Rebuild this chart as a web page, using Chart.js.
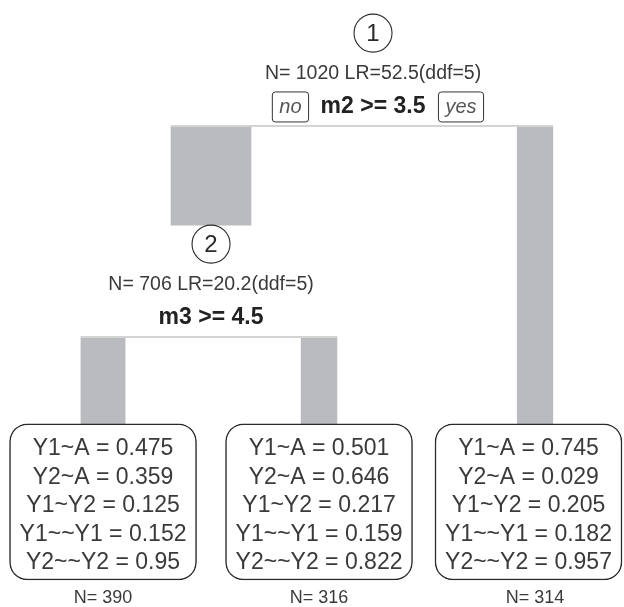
<!DOCTYPE html>
<html>
<head>
<meta charset="utf-8">
<script src="https://cdn.jsdelivr.net/npm/chart.js@4.4.1/dist/chart.umd.min.js"></script>
<style>
    html, body { margin: 0; padding: 0; background: #ffffff; }
    #treeChart { display: block; }
</style>
</head>
<body>
<canvas id="treeChart" width="624" height="607"></canvas>
<script>
// inner (split) nodes
const nodeIds = [1, 2]
const nodeN = [1020, 706]
const nodeLR = [52.5, 20.2]
const nodeDdf = [5, 5]
const splitVars = ['m2', 'm3']
const splitCuts = [3.5, 4.5]

// terminal nodes, left to right
const leafN = [390, 316, 314]
const paramLabels = ['Y1~A', 'Y2~A', 'Y1~Y2', 'Y1~~Y1', 'Y2~~Y2']
const leaf1Params = [0.475, 0.359, 0.125, 0.152, 0.95]
const leaf2Params = [0.501, 0.646, 0.217, 0.159, 0.822]
const leaf3Params = [0.745, 0.029, 0.205, 0.182, 0.957]

// tree structure: children of each inner node (left = no, right = yes)
const children = [
    [{ type: 'node', i: 1 }, { type: 'leaf', i: 2 }],
    [{ type: 'leaf', i: 0 }, { type: 'leaf', i: 1 }],
]

const leafParams = [leaf1Params, leaf2Params, leaf3Params]

// axis ranges: x in leaf slots, y in tree depth
const X_MIN = 0.523
const X_MAX = 3.412
const Y_MIN = -0.597
const Y_MAX = 2.28
const W = 624
const H = 607
const PX_PER_X = W / (X_MAX - X_MIN)
const PX_PER_Y = H / (Y_MAX - Y_MIN)

// layout offsets (depth units) and styles
const CIRCLE_DY = -0.44
const CIRCLE_R = 19
const INFO_DY = -0.25
const SPLIT_DY = -0.09
const LEAF_TOP_DY = -0.588
const LEAF_BOTTOM_DY = 0.152
const LEAF_N_DY = 0.237
const OBS_PX = 80 / 706
const BAR_GREY = '#babbbe'
const LINE_GREY = '#d4d4d4'
const TEXT = '#3a3a3a'
const FONT = '"Liberation Sans", Arial, sans-serif'
const LEAF_FONT = '23px ' + FONT

function layoutTree() {
    const leaves = leafN.map((n, i) => ({ x: i + 1, n }))
    const nodes = nodeN.map(n => ({ n }))
    let maxDepth = 0

    function place(i, depth) {
        nodes[i].depth = depth
        maxDepth = Math.max(maxDepth, depth)
        const xs = children[i].map(c => c.type === 'node' ? place(c.i, depth + 1) : leaves[c.i].x)
        nodes[i].x = xs.reduce((sum, v) => sum + v, 0) / xs.length
        return nodes[i].x
    }
    place(0, 0)
    leaves.forEach(l => { l.depth = maxDepth + 1 })
    return { nodes, leaves }
}

const tree = layoutTree()

const measureCtx = document.createElement('canvas').getContext('2d')
measureCtx.font = LEAF_FONT

function leafLines(j) {
    return paramLabels.map((label, k) => label + ' = ' + leafParams[j][k])
}

function childOf(c) {
    return c.type === 'node' ? tree.nodes[c.i] : tree.leaves[c.i]
}

function childTop(c) {
    const node = childOf(c)
    if (c.type === 'node') return node.depth + CIRCLE_DY - CIRCLE_R / PX_PER_Y
    return node.depth + LEAF_TOP_DY
}

const datasets = []

// grey branch bars, width proportional to N of the child
tree.nodes.forEach((node, i) => {
    children[i].forEach(c => {
        const child = childOf(c)
        datasets.push({
            type: 'bar',
            data: [{ x: child.x, y: [node.depth, childTop(c)] }],
            barThickness: child.n * OBS_PX,
            grouped: false,
            backgroundColor: BAR_GREY,
            borderWidth: 0,
            order: 5,
        })
    })
})

// horizontal split lines across the branch bars
tree.nodes.forEach((node, i) => {
    const left = childOf(children[i][0])
    const right = childOf(children[i][children[i].length - 1])
    const halfL = left.n * OBS_PX / 2 / PX_PER_X
    const halfR = right.n * OBS_PX / 2 / PX_PER_X
    datasets.push({
        type: 'line',
        data: [{ x: left.x - halfL, y: node.depth }, { x: right.x + halfR, y: node.depth }],
        borderColor: LINE_GREY,
        borderWidth: 2,
        pointRadius: 0,
        order: 4,
    })
})

// node circles
datasets.push({
    type: 'line',
    data: tree.nodes.map(n => ({ x: n.x, y: n.depth + CIRCLE_DY })),
    showLine: false,
    pointRadius: CIRCLE_R,
    pointBackgroundColor: '#ffffff',
    pointBorderColor: '#2a2a2a',
    pointBorderWidth: 1.1,
    order: 2,
})

// terminal node boxes
const leafBoxes = tree.leaves.map((leaf, j) => {
    const textW = Math.max(...leafLines(j).map(t => measureCtx.measureText(t).width))
    const boxW = Math.round(textW + 20)
    let cx = leaf.x
    const rightPx = (cx - X_MIN) * PX_PER_X + boxW / 2
    if (rightPx > W - 2) cx -= (rightPx - (W - 2)) / PX_PER_X
    return { cx, boxW }
})

leafBoxes.forEach((box, j) => {
    const leaf = tree.leaves[j]
    datasets.push({
        type: 'bar',
        data: [{ x: box.cx, y: [leaf.depth + LEAF_TOP_DY, leaf.depth + LEAF_BOTTOM_DY] }],
        barThickness: box.boxW,
        grouped: false,
        backgroundColor: '#ffffff',
        borderColor: '#2a2a2a',
        borderWidth: 1.5,
        borderRadius: { topLeft: 18, topRight: 18, bottomLeft: 18, bottomRight: 18 },
        borderSkipped: false,
        order: 3,
    })
})

function roundBox(ctx, x, y, w, h, r) {
    ctx.beginPath()
    ctx.moveTo(x + r, y)
    ctx.arcTo(x + w, y, x + w, y + h, r)
    ctx.arcTo(x + w, y + h, x, y + h, r)
    ctx.arcTo(x, y + h, x, y, r)
    ctx.arcTo(x, y, x + w, y, r)
    ctx.closePath()
    ctx.stroke()
}

const treeText = {
    id: 'treeText',
    afterDatasetsDraw(chart) {
        const { ctx } = chart
        const xs = chart.scales.x
        const ys = chart.scales.y
        ctx.save()
        ctx.textAlign = 'center'
        ctx.textBaseline = 'middle'

        tree.nodes.forEach((node, i) => {
            const cx = xs.getPixelForValue(node.x)

            ctx.fillStyle = '#2a2a2a'
            ctx.font = '24px ' + FONT
            ctx.fillText(String(nodeIds[i]), cx, ys.getPixelForValue(node.depth + CIRCLE_DY) + 1)

            ctx.fillStyle = TEXT
            ctx.font = '19.5px ' + FONT
            ctx.fillText('N= ' + nodeN[i] + ' LR=' + nodeLR[i] + '(ddf=' + nodeDdf[i] + ')',
                cx, ys.getPixelForValue(node.depth + INFO_DY))

            const sy = ys.getPixelForValue(node.depth + SPLIT_DY)
            const split = splitVars[i] + ' >= ' + splitCuts[i]
            ctx.fillStyle = '#222222'
            ctx.font = 'bold 23px ' + FONT
            ctx.fillText(split, cx, sy)

            if (node.depth === 0) {
                const halfSplit = ctx.measureText(split).width / 2
                ctx.font = 'italic 20px ' + FONT
                ctx.strokeStyle = '#333333'
                ctx.lineWidth = 1
                const noW = ctx.measureText('no').width + 14
                const yesW = ctx.measureText('yes').width + 14
                const noX = cx - halfSplit - 12 - noW
                const yesX = cx + halfSplit + 13
                roundBox(ctx, noX, sy - 15, noW, 30, 3)
                roundBox(ctx, yesX, sy - 15, yesW, 30, 3)
                ctx.fillStyle = '#555555'
                ctx.fillText('no', noX + noW / 2, sy)
                ctx.fillText('yes', yesX + yesW / 2, sy)
            }
        })

        tree.leaves.forEach((leaf, j) => {
            const cx = xs.getPixelForValue(leafBoxes[j].cx)
            const top = ys.getPixelForValue(leaf.depth + LEAF_TOP_DY)
            ctx.fillStyle = TEXT
            ctx.font = LEAF_FONT
            leafLines(j).forEach((t, k) => {
                ctx.fillText(t, cx, top + 25 + k * 28.5)
            })
            ctx.font = '18px ' + FONT
            ctx.fillText('N= ' + leafN[j], xs.getPixelForValue(leaf.x), ys.getPixelForValue(leaf.depth + LEAF_N_DY))
        })
        ctx.restore()
    },
}

new Chart(document.getElementById('treeChart').getContext('2d'), {
    type: 'bar',
    data: { datasets },
    options: {
        responsive: false,
        animation: false,
        events: [],
        layout: { padding: 0, autoPadding: false },
        plugins: {
            legend: { display: false },
            tooltip: { enabled: false },
        },
        scales: {
            x: { type: 'linear', display: false, min: X_MIN, max: X_MAX, offset: false },
            y: { type: 'linear', display: false, min: Y_MIN, max: Y_MAX, reverse: true, beginAtZero: false },
        },
    },
    plugins: [treeText],
})
</script>
</body>
</html>
